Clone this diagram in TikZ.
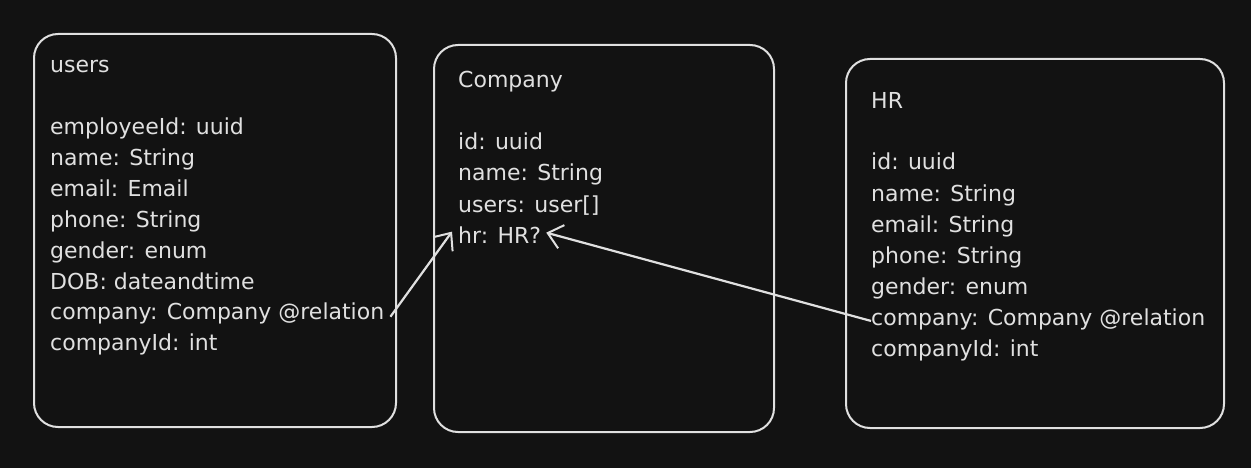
\documentclass[tikz,border=0pt]{standalone}
\usepackage{fontspec}
\setmainfont{DejaVu Sans}
\usetikzlibrary{arrows.meta,positioning}
\definecolor{bg}{HTML}{121212}
\definecolor{ink}{HTML}{E0E0E0}
\tikzset{
  table/.style={draw=ink,line width=2pt,rounded corners=24pt,anchor=north west,inner sep=0pt},
  field/.style={anchor=base west,inner sep=0pt,text=ink,font=\fontsize{22}{26}\selectfont},
  rel/.style={draw=ink,line width=2.2pt,-{Straight Barb[length=14pt,width=24pt,line width=2pt]}}
}
\begin{document}
\begin{tikzpicture}[x=1pt,y=-1pt]
\fill[bg] (0,0) rectangle (1251,468);
\useasboundingbox (0,0) rectangle (1251,468);
% tables
\node[table,minimum width=362pt,minimum height=393pt] (users) at (33,33) {};
\node[table,minimum width=340pt,minimum height=387pt] (company) at (433,44) {};
\node[table,minimum width=378pt,minimum height=369pt] (hr) at (845,58) {};
% users
\node[field] (Ut) at (50,73) {users};
\foreach \t [count=\n] in {employeeId: uuid,name: String,email: Email,phone: String,gender: enum,DOB: dateandtime,company: Company @relation,companyId: int}
  \node[field] (U\n) at (50,135+\n*30.8-30.8) {\t};
% company
\node[field] (Ct) at (458,88) {Company};
\foreach \t [count=\n] in {id: uuid,name: String,users: user[],hr: HR?}
  \node[field] (C\n) at (458,150+\n*31-31) {\t};
% hr
\node[field] (Ht) at (871,109) {HR};
\foreach \t [count=\n] in {id: uuid,name: String,email: String,phone: String,gender: enum,company: Company @relation,companyId: int}
  \node[field] (H\n) at (871,170+\n*31-31) {\t};
% relations
\draw[rel] ([xshift=6pt,yshift=-3pt]U7.east) -- ([xshift=-6pt,yshift=3pt]C4.west);
\draw[rel] ([yshift=-2pt]H6.west) -- ([xshift=5pt,yshift=2pt]C4.east);
\end{tikzpicture}
\end{document}
